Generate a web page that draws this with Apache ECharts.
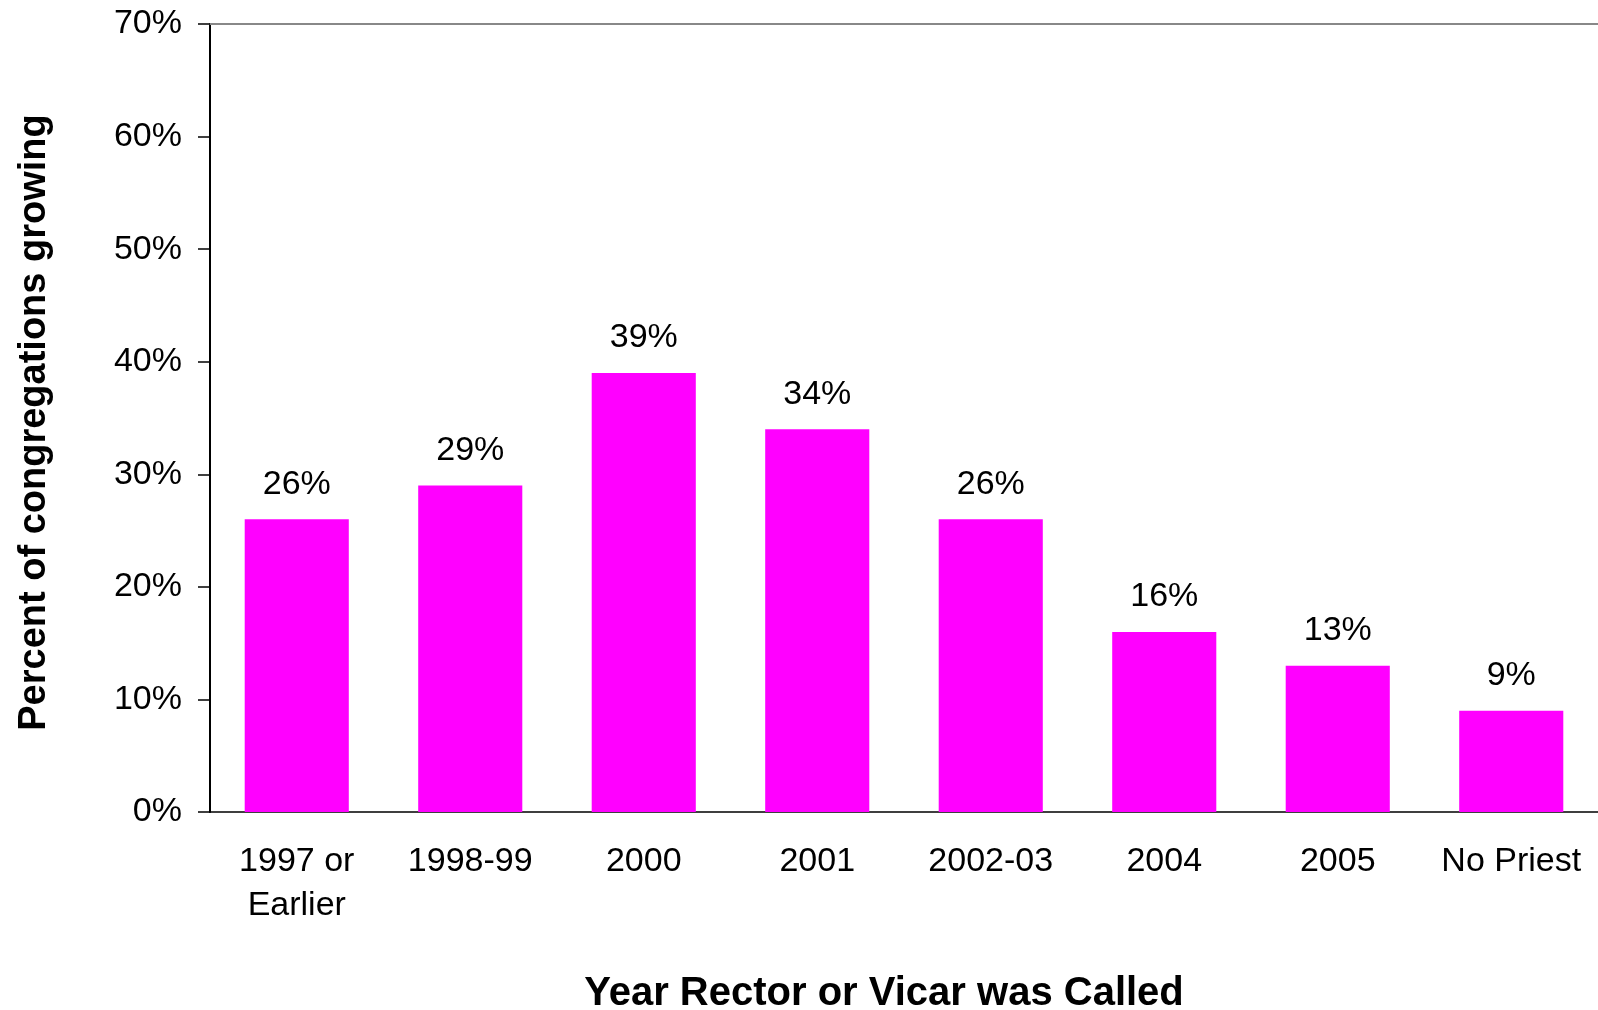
<!DOCTYPE html>
<html>
<head>
    <meta charset="utf-8" />
    <title>Year Rector or Vicar was Called</title>
    <script src="https://cdn.jsdelivr.net/npm/echarts@6/dist/echarts.min.js"></script>
    <style type="text/css">
        html, body { margin: 0; padding: 0; background: #fff; }
        #chart { width: 1598px; height: 1010px; }
    </style>
</head>
<body>
    <div id="chart"></div>
    <script>
        // categories and values
        var categories = ['1997 or\nEarlier', '1998-99', '2000', '2001', '2002-03', '2004', '2005', 'No Priest'];
        var growingPct = [26, 29, 39, 34, 26, 16, 13, 9];
        var yMax = 70;
        var yStep = 10;

        var font = 'Liberation Sans, Arial, sans-serif';
        var chart = echarts.init(document.getElementById('chart'));

        var option = {
            animation: false,
            backgroundColor: '#fff',
            grid: { left: 210, right: 0, top: 24, bottom: 198, outerBoundsMode: 'none' },
            xAxis: [
                {
                    type: 'category',
                    data: categories,
                    position: 'bottom',
                    name: 'Year Rector or Vicar was Called',
                    nameLocation: 'middle',
                    nameGap: 162,
                    nameTextStyle: {
                        fontFamily: font, fontSize: 40, fontWeight: 'bold', color: '#000',
                        padding: [0, 40, 0, 0]
                    },
                    axisLine: { lineStyle: { color: '#000', width: 1.5 } },
                    axisTick: { length: 10, lineStyle: { color: '#000', width: 1 } },
                    axisLabel: {
                        fontFamily: font, fontSize: 34, color: '#000',
                        lineHeight: 44, margin: 28, interval: 0
                    },
                    splitLine: { show: false }
                },
                {
                    // grey frame line across the top of the plot
                    type: 'category',
                    data: categories,
                    position: 'top',
                    axisLine: { lineStyle: { color: '#888', width: 2 } },
                    axisTick: { show: false },
                    axisLabel: { show: false },
                    splitLine: { show: false }
                }
            ],
            yAxis: {
                type: 'value',
                min: 0,
                max: yMax,
                interval: yStep,
                name: 'Percent of congregations growing',
                nameLocation: 'middle',
                nameGap: 156,
                nameTextStyle: {
                    fontFamily: font, fontSize: 38, fontWeight: 'bold', color: '#000',
                    padding: [0, 9, 0, 0]
                },
                axisLine: { show: true, lineStyle: { color: '#000', width: 2 } },
                axisTick: { show: true, length: 12, lineStyle: { color: '#000', width: 1.5 } },
                axisLabel: {
                    fontFamily: font, fontSize: 34, color: '#000', margin: 28,
                    formatter: '{value}%'
                },
                splitLine: { show: false }
            },
            series: [
                {
                    type: 'bar',
                    data: growingPct,
                    barWidth: '60%',
                    itemStyle: { color: '#FF00FF' },
                    label: {
                        show: true,
                        position: 'top',
                        distance: 18,
                        fontFamily: font,
                        fontSize: 34,
                        color: '#000',
                        formatter: '{c}%'
                    }
                }
            ]
        };

        chart.setOption(option);
    </script>
</body>
</html>
